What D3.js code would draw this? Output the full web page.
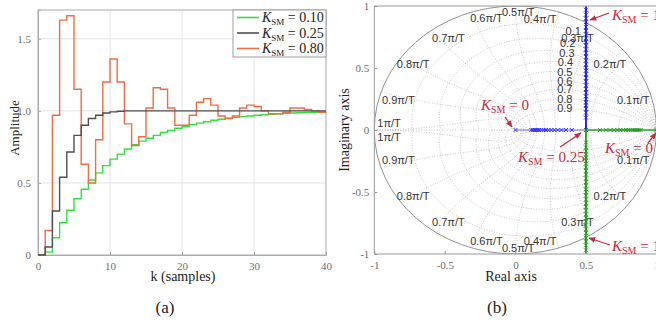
<!DOCTYPE html>
<html><head><meta charset="utf-8">
<script src="https://cdn.jsdelivr.net/npm/d3@7"></script>
<style>
body{margin:0;background:#fff;}
svg{display:block;}
</style></head><body>
<svg id="c" width="656" height="324"></svg>
<script>
// ---------- Data: panel (a) step responses, k = 0..40 ----------
const kSamples = d3.range(0, 41);
const resp010 = [0,0.02,0.12,0.224,0.31,0.39,0.456,0.52,0.57,0.62,0.665,0.70,0.736,0.765,0.79,0.81,0.83,0.85,0.865,0.88,0.89,0.905,0.915,0.925,0.935,0.942,0.95,0.955,0.96,0.965,0.97,0.973,0.977,0.98,0.983,0.985,0.987,0.989,0.99,0.992,0.993];
const resp025 = [0,0.055,0.305,0.54,0.715,0.83,0.90,0.947,0.97,0.985,0.993,0.997,1.0,1.0,1.0,1.0,1.0,1.0,1.0,1.0,1.0,1.0,1.0,1.0,1.0,1.0,1.0,1.0,1.0,1.0,1.0,1.0,1.0,1.0,1.0,1.0,1.0,1.0,1.0,1.0,1.0];
const resp080 = [0,0.17,0.97,1.63,1.66,1.15,0.63,0.50,0.80,1.20,1.36,1.20,0.91,0.76,0.82,1.02,1.16,1.15,1.02,0.90,0.90,0.97,1.06,1.085,1.04,0.965,0.947,0.965,1.02,1.04,1.03,1.00,0.98,0.98,0.99,1.02,1.02,1.01,1.00,0.99,0.99];
const seriesNames = ["0.10","0.25","0.80"];
const seriesColors = ["#33e040","#505050","#f06c45"];
const xTicksA = [0,10,20,30,40];
const yTicksA = [0,0.5,1.0,1.5];
const yTickLabelsA = ["0","0.5","1.0","1.5"];

// ---------- Data: panel (b) pole locations ----------
const blueReal = [0,0.113,0.126,0.139,0.154,0.168,0.184,0.2,0.217,0.235,0.255,0.276,0.3,0.327,0.359,0.4,0.5];
const blueImagUp = [0.10,0.14,0.17,0.20,0.22,0.25,0.27,0.30,0.33,0.36,0.39,0.42,0.45,0.48,0.50,0.53,0.56,0.59,0.62,0.65,0.68,0.71,0.74,0.77,0.80,0.83,0.87,0.90,0.93,0.97];
const greenReal = [1,0.887,0.874,0.861,0.846,0.832,0.816,0.8,0.783,0.765,0.745,0.724,0.7,0.673,0.641,0.6,0.5];
const greenImagDown = [-0.10,-0.14,-0.17,-0.20,-0.22,-0.25,-0.27,-0.30,-0.33,-0.36,-0.39,-0.42,-0.45,-0.48,-0.50,-0.53,-0.56,-0.59,-0.62,-0.65,-0.68,-0.71,-0.74,-0.77,-0.80,-0.83,-0.87,-0.90,-0.93,-0.97];
const xTicksB = [-1,-0.5,0,0.5,1];
const yTicksB = [-1,-0.5,0,0.5,1];
const zetaValues = [0.1,0.2,0.3,0.4,0.5,0.6,0.7,0.8,0.9];
const wnFractions = [0.1,0.2,0.3,0.4,0.5,0.6,0.7,0.8,0.9,1.0];
// frequency labels [text, re, im]
const wnLabels = [
 ["0.5π/T",0.02,0.955],["0.6π/T",-0.205,0.90],["0.4π/T",0.175,0.895],
 ["0.7π/T",-0.475,0.745],["0.3π/T",0.44,0.745],
 ["0.8π/T",-0.725,0.53],["0.2π/T",0.67,0.53],
 ["0.9π/T",-0.83,0.24],["0.1π/T",0.835,0.24],
 ["1π/T",-0.895,0.055],["1π/T",-0.895,-0.055],
 ["0.9π/T",-0.83,-0.24],["0.1π/T",0.835,-0.24],
 ["0.8π/T",-0.725,-0.53],["0.2π/T",0.67,-0.53],
 ["0.7π/T",-0.475,-0.745],["0.3π/T",0.44,-0.745],
 ["0.6π/T",-0.205,-0.895],["0.5π/T",0.02,-0.955],["0.4π/T",0.175,-0.895]
];
const zetaLabels = [["0.1",0.41,0.795],["0.2",0.37,0.705],["0.3",0.365,0.625],["0.4",0.355,0.545],["0.5",0.35,0.47],["0.6",0.35,0.397],["0.7",0.35,0.327],["0.8",0.35,0.252],["0.9",0.35,0.175]];

const svg = d3.select("#c");
const serif = "'Liberation Serif','DejaVu Serif',serif";
const sans = "'Liberation Sans',Arial,sans-serif";

svg.append("defs").append("marker").attr("id","arr").attr("viewBox","0 0 10 10")
  .attr("refX",9).attr("refY",5).attr("markerWidth",7).attr("markerHeight",7)
  .attr("orient","auto-start-reverse").attr("markerUnits","userSpaceOnUse")
  .append("path").attr("d","M0,1 L10,5 L0,9 Z").attr("fill","#c42a40");

// ================= Panel (a) =================
const xa = d3.scaleLinear().domain([0,40]).range([38,326]);
const ya = d3.scaleLinear().domain([0,1.7]).range([255,10]);
const ga = svg.append("g");
// grid
ga.selectAll(".gx").data(xTicksA.slice(1,-1)).join("line")
  .attr("x1",d=>xa(d)).attr("x2",d=>xa(d)).attr("y1",ya(0)).attr("y2",ya(1.7))
  .attr("stroke","#e4e4e4").attr("stroke-width",1);
ga.selectAll(".gy").data(yTicksA.slice(1)).join("line")
  .attr("y1",d=>ya(d)).attr("y2",d=>ya(d)).attr("x1",xa(0)).attr("x2",xa(40))
  .attr("stroke","#e4e4e4").attr("stroke-width",1);
// axes
const axA = d3.axisBottom(xa).tickValues(xTicksA).tickSize(-3).tickPadding(7).tickFormat(d=>String(d));
const axAy = d3.axisLeft(ya).tickValues(yTicksA).tickSize(-3).tickFormat("");
const gxa = ga.append("g").attr("transform",`translate(0,${ya(0)})`).call(axA);
const gya = ga.append("g").attr("transform",`translate(${xa(0)},0)`).call(axAy);
[gxa,gya].forEach(g=>{
  g.select(".domain").attr("stroke","#aaa");
  g.selectAll(".tick line").attr("stroke","#aaa");
  g.selectAll("text").attr("fill","#6e6e6e").style("font-family",serif).style("font-size","11px");
});
ga.selectAll(".ylab").data(yTicksA).join("text").attr("class","ylab")
  .attr("x",31).attr("y",d=>ya(d)+4).attr("text-anchor","end")
  .attr("fill","#6e6e6e").style("font-family",serif).style("font-size","11px")
  .text((d,i)=>yTickLabelsA[i]);
ga.append("rect").attr("x",xa(0)).attr("y",ya(1.7)).attr("width",xa(40)-xa(0)).attr("height",ya(0)-ya(1.7))
  .attr("fill","none").attr("stroke","#aaa").attr("stroke-width",1);
// stairs
const stair = d3.line().x((d,i)=>xa(kSamples[i])).y(d=>ya(d)).curve(d3.curveStepAfter);
const allSeries = [resp010,resp025,resp080];
[0,2,1].forEach(idx=>{
  ga.append("path").attr("d",stair(allSeries[idx])).attr("fill","none")
    .attr("stroke",seriesColors[idx]).attr("stroke-width",1.4);
});
// legend
const lg = ga.append("g");
lg.append("rect").attr("x",233).attr("y",10).attr("width",93).attr("height",47)
  .attr("fill","#fff").attr("stroke","#888").attr("stroke-width",0.8);
seriesNames.forEach((n,i)=>{
  const yy = 17.5 + i*15.5;
  lg.append("line").attr("x1",237).attr("x2",259).attr("y1",yy).attr("y2",yy)
    .attr("stroke",seriesColors[i]).attr("stroke-width",1.6);
  const t = lg.append("text").attr("x",262).attr("y",yy+4.5).style("font-family",serif).style("font-size","14px").attr("fill","#222");
  t.append("tspan").style("font-style","italic").text("K");
  t.append("tspan").attr("dy",3).style("font-size","9px").text("SM");
  t.append("tspan").attr("dy",-3).text(" = " + n);
});
// labels
ga.append("text").attr("transform","translate(19,128) rotate(-90)").attr("text-anchor","middle")
  .style("font-family",serif).style("font-size","13px").attr("fill","#222").text("Amplitude");
ga.append("text").attr("x",183).attr("y",281).attr("text-anchor","middle")
  .style("font-family",serif).style("font-size","14px").attr("fill","#222").text("k (samples)");
svg.append("text").attr("x",165).attr("y",313).attr("text-anchor","middle")
  .style("font-family",serif).style("font-size","17px").attr("fill","#222").text("(a)");

// ================= Panel (b) =================
const xb = d3.scaleLinear().domain([-1,1]).range([374.3,656.5]);
const yb = d3.scaleLinear().domain([-1,1]).range([254,6]);
const gb = svg.append("g");
svg.select("defs").append("clipPath").attr("id","clipb").append("rect")
  .attr("x",xb(-1)).attr("y",yb(1)).attr("width",xb(1)-xb(-1)).attr("height",yb(-1)-yb(1));
const inner = gb.append("g").attr("clip-path","url(#clipb)");
const cline = d3.line().x(d=>xb(d[0])).y(d=>yb(d[1]));
const gridStyle = s=>s.attr("fill","none").attr("stroke","#bbbbbb").attr("stroke-width",0.8).attr("stroke-dasharray","1,1.6");
// real axis dotted
inner.append("line").attr("x1",xb(-1)).attr("x2",xb(1)).attr("y1",yb(0)).attr("y2",yb(0)).call(gridStyle);
// constant damping curves
zetaValues.forEach(z=>{
  [1,-1].forEach(sg=>{
    const pts = d3.range(0,101).map(i=>{const th=Math.PI*i/100; const r=Math.exp(-z*th/Math.sqrt(1-z*z)); return [r*Math.cos(th), sg*r*Math.sin(th)];});
    inner.append("path").attr("d",cline(pts)).call(gridStyle);
  });
});
// constant natural frequency curves
wnFractions.forEach(f=>{
  const wn = f*Math.PI;
  [1,-1].forEach(sg=>{
    const pts = d3.range(0,61).map(i=>{const z=i/60; const r=Math.exp(-z*wn); const th=wn*Math.sqrt(1-z*z); return [r*Math.cos(th), sg*r*Math.sin(th)];});
    inner.append("path").attr("d",cline(pts)).call(gridStyle);
  });
});
// unit circle
inner.append("ellipse").attr("cx",xb(0)).attr("cy",yb(0)).attr("rx",xb(1)-xb(0)).attr("ry",yb(0)-yb(1))
  .attr("fill","none").attr("stroke","#909090").attr("stroke-width",1);
// labels
wnLabels.forEach(d=>{
  inner.append("text").attr("x",xb(d[1])).attr("y",yb(d[2])+4).attr("text-anchor","middle")
    .style("font-family",sans).style("font-size","11px").attr("fill","#333").text(d[0]);
});
zetaLabels.forEach(d=>{
  inner.append("text").attr("x",xb(d[1])).attr("y",yb(d[2])+4).attr("text-anchor","middle")
    .style("font-family",sans).style("font-size","11px").attr("fill","#333").text(d[0]);
});
// root locus branches
inner.append("line").attr("x1",xb(0)).attr("x2",xb(0.5)).attr("y1",yb(0)).attr("y2",yb(0)).attr("stroke","#6a6aff").attr("stroke-width",1.2);
inner.append("line").attr("x1",xb(0.5)).attr("x2",xb(0.5)).attr("y1",yb(0)).attr("y2",yb(1)).attr("stroke","#1010ff").attr("stroke-width",1.8);
inner.append("line").attr("x1",xb(1)).attr("x2",xb(0.5)).attr("y1",yb(0)).attr("y2",yb(0)).attr("stroke","#2aa02a").attr("stroke-width",1.6);
inner.append("line").attr("x1",xb(0.5)).attr("x2",xb(0.5)).attr("y1",yb(0)).attr("y2",yb(-1)).attr("stroke","#1a9a1a").attr("stroke-width",1.8);
const xmark = (g,pts,col)=>{
  pts.forEach(p=>{
    const cx=xb(p[0]), cy=yb(p[1]), s=2;
    g.append("path").attr("d",`M${cx-s},${cy-s}L${cx+s},${cy+s}M${cx-s},${cy+s}L${cx+s},${cy-s}`)
      .attr("stroke",col).attr("stroke-width",0.9).attr("fill","none");
  });
};
xmark(inner, blueReal.map(r=>[r,0]), "#2020ff");
xmark(inner, blueImagUp.map(v=>[0.5,v]), "#2020ff");
xmark(inner, greenReal.map(r=>[r,0]), "#1a9a1a");
xmark(inner, greenImagDown.map(v=>[0.5,v]), "#1a9a1a");
// box + axes
gb.append("line").attr("x1",xb(-1)).attr("x2",xb(1)).attr("y1",yb(1)).attr("y2",yb(1)).attr("stroke","#999");
gb.append("line").attr("x1",xb(-1)).attr("x2",xb(1)).attr("y1",yb(-1)).attr("y2",yb(-1)).attr("stroke","#999");
gb.append("line").attr("x1",xb(-1)).attr("x2",xb(-1)).attr("y1",yb(1)).attr("y2",yb(-1)).attr("stroke","#999");
const axB = d3.axisBottom(xb).tickValues(xTicksB).tickSize(-3).tickPadding(7).tickFormat(d=>String(d));
const axBy = d3.axisLeft(yb).tickValues(yTicksB).tickSize(-3).tickPadding(5).tickFormat(d=>String(d));
const gxb = gb.append("g").attr("transform",`translate(0,${yb(-1)})`).call(axB);
const gyb = gb.append("g").attr("transform",`translate(${xb(-1)},0)`).call(axBy);
[gxb,gyb].forEach(g=>{
  g.select(".domain").remove();
  g.selectAll(".tick line").attr("stroke","#999");
  g.selectAll("text").attr("fill","#6e6e6e").style("font-family",serif).style("font-size","11px");
});
gb.append("text").attr("x",511).attr("y",281).attr("text-anchor","middle")
  .style("font-family",serif).style("font-size","14px").attr("fill","#222").text("Real axis");
gb.append("text").attr("transform","translate(349,130) rotate(-90)").attr("text-anchor","middle")
  .style("font-family",serif).style("font-size","14px").attr("fill","#222").text("Imaginary axis");
svg.append("text").attr("x",497).attr("y",313).attr("text-anchor","middle")
  .style("font-family",serif).style("font-size","17px").attr("fill","#222").text("(b)");

// annotations
const red = "#c42a40";
const annot = (x,y,val)=>{
  const t = gb.append("text").attr("x",x).attr("y",y).style("font-family",serif).style("font-size","15px").attr("fill",red);
  t.append("tspan").style("font-style","italic").text("K");
  t.append("tspan").attr("dy",3).style("font-size","10px").text("SM");
  t.append("tspan").attr("dy",-3).text(" = " + val);
};
const arrow = (x1,y1,x2,y2)=>gb.append("line").attr("x1",x1).attr("y1",y1).attr("x2",x2).attr("y2",y2)
  .attr("stroke",red).attr("stroke-width",1.3).attr("marker-end","url(#arr)");
annot(612,20,"1"); arrow(609,13,590,20);
annot(481,110,"0"); arrow(505,117,512,127);
annot(518,162,"0.25"); arrow(560,147,581,133);
annot(605,153,"0"); arrow(648,143,656,133);
annot(612,251,"1"); arrow(610,245,589,238);
</script>
</body></html>
